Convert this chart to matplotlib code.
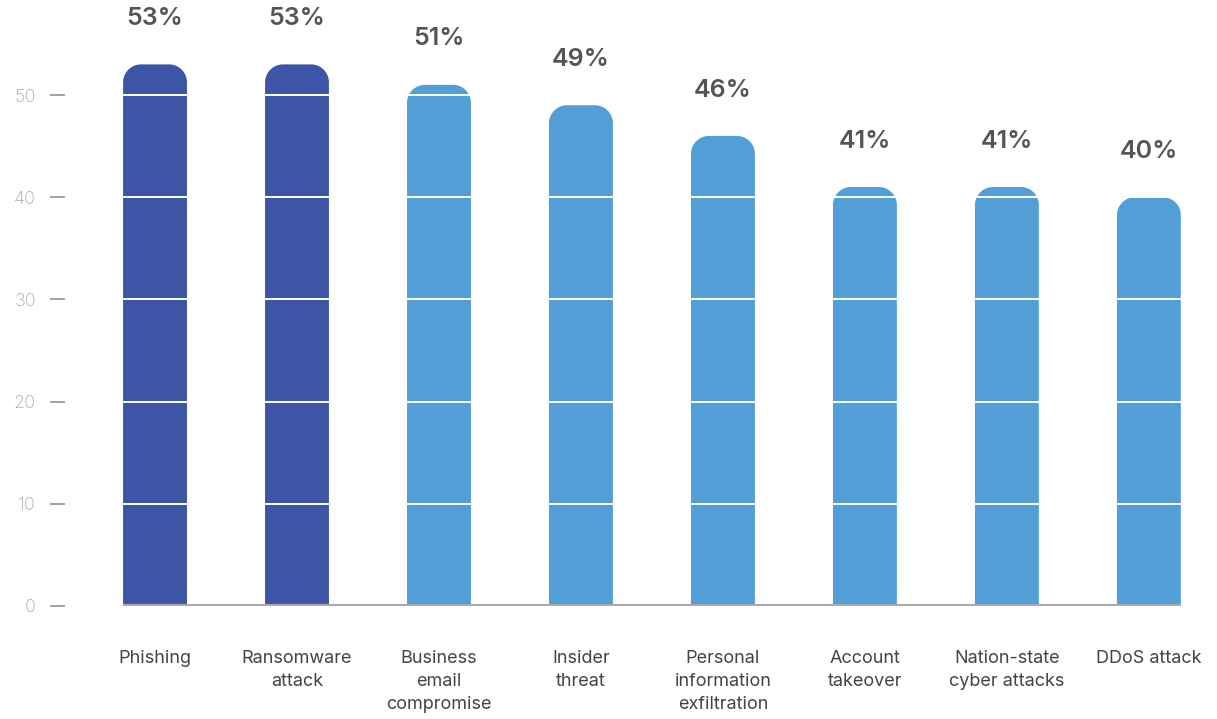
import matplotlib
matplotlib.use("Agg")
import numpy as np
import matplotlib.pyplot as plt
from matplotlib.patches import PathPatch
from matplotlib.path import Path

categories = ["Phishing", "Ransomware\nattack", "Business\nemail\ncompromise",
              "Insider\nthreat", "Personal\ninformation\nexfiltration",
              "Account\ntakeover", "Nation-state\ncyber attacks", "DDoS attack"]
values = [53, 53, 51, 49, 46, 41, 41, 40]
highlight = [True, True, False, False, False, False, False, False]

dark_blue = "#3D55A5"
light_blue = "#529FD8"
bar_width = 0.45

plt.rcParams["font.family"] = ["Inter", "DejaVu Sans"]

fig = plt.figure(figsize=(12.17, 7.19), dpi=100)
ax = fig.add_axes([65 / 1217, 113 / 719, 1135 / 1217, 606 / 719])
ax.set_xlim(-0.634, 7.36)
ax.set_ylim(0, 59.3)

# pixels per data unit on each axis, so the rounded tops stay circular
fig.canvas.draw()
x0, y0 = ax.transData.transform((0, 0))
x1, y1 = ax.transData.transform((1, 1))
corner_px = 18
rx = corner_px / (x1 - x0)
ry = corner_px / (y1 - y0)


def top_rounded_bar(xc, h):
    left, right = xc - bar_width / 2, xc + bar_width / 2
    t = np.linspace(0, np.pi / 2, 24)
    # right corner from the side up to the top, then left corner down
    rc_x = right - rx + rx * np.cos(t)
    rc_y = h - ry + ry * np.sin(t)
    lc_x = left + rx - rx * np.cos(t[::-1])
    lc_y = h - ry + ry * np.sin(t[::-1])
    xs = np.concatenate([[left, right], rc_x, lc_x, [left]])
    ys = np.concatenate([[0, 0], rc_y, lc_y, [0]])
    return Path(np.column_stack([xs, ys]), closed=False)


for i, (v, hl) in enumerate(zip(values, highlight)):
    color = dark_blue if hl else light_blue
    ax.add_patch(PathPatch(top_rounded_bar(i, v), fc=color, ec="none", zorder=2))
    ax.annotate(f"{v}%", (i, v), xytext=(0, 33), textcoords="offset points",
                ha="center", va="center", fontsize=18, fontweight="semibold",
                color="#555555", zorder=5)

# white gridlines cut across the bars
for y in range(10, 60, 10):
    ax.axhline(y, color="white", lw=1.4, zorder=3)

ax.hlines(0, -bar_width / 2, 7 + bar_width / 2, color="#aaaaaa", lw=3, zorder=4)

ax.set_xticks(range(len(categories)))
ax.set_xticklabels(categories, fontsize=13, color="#444444", linespacing=1.45,
                   va="top")
ax.tick_params(axis="x", length=0, pad=32)
ax.set_yticks(range(0, 60, 10))
ax.tick_params(axis="y", length=11, width=1.3, color="#999999", pad=10,
               labelsize=13, labelcolor="#aaaaaa")
for lbl in ax.get_yticklabels():
    lbl.set_fontweight("light")

for s in ax.spines.values():
    s.set_visible(False)

fig.savefig("out.png", dpi=100)
